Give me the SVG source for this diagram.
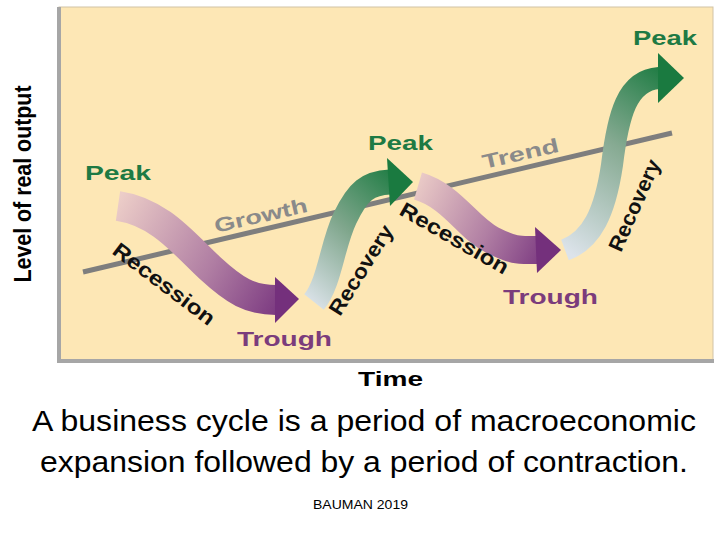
<svg xmlns="http://www.w3.org/2000/svg" width="720" height="540" viewBox="0 0 720 540">
  <style>
    .lbl { font-family: "Liberation Sans", Arial, sans-serif; font-weight: bold; }
    .peak { fill: #1E7A44; font-size: 21px; }
    .trough { fill: #7B3C7C; font-size: 21px; }
    .phase { fill: #111; font-size: 21px; }
    .trendtxt { fill: #8A8A8A; font-size: 20px; }
    .cap { font-family: "Liberation Sans", Arial, sans-serif; fill: #000; }
  </style>
  <defs>
    <linearGradient id="rec1" gradientUnits="userSpaceOnUse" x1="118" y1="200" x2="298" y2="300">
      <stop offset="0" stop-color="#ECCDC8"/>
      <stop offset="0.55" stop-color="#B07EA3"/>
      <stop offset="1" stop-color="#74307C"/>
    </linearGradient>
    <linearGradient id="rec2" gradientUnits="userSpaceOnUse" x1="415" y1="180" x2="560" y2="250">
      <stop offset="0" stop-color="#ECCDC8"/>
      <stop offset="0.55" stop-color="#B07EA3"/>
      <stop offset="1" stop-color="#74307C"/>
    </linearGradient>
    <linearGradient id="gro1" gradientUnits="userSpaceOnUse" x1="305" y1="300" x2="412" y2="180">
      <stop offset="0" stop-color="#DCE3EA"/>
      <stop offset="0.5" stop-color="#7FA68C"/>
      <stop offset="1" stop-color="#1A7A40"/>
    </linearGradient>
    <linearGradient id="gro2" gradientUnits="userSpaceOnUse" x1="565" y1="250" x2="684" y2="78">
      <stop offset="0" stop-color="#DCE3EA"/>
      <stop offset="0.55" stop-color="#86AA92"/>
      <stop offset="1" stop-color="#1A7A40"/>
    </linearGradient>
  </defs>

  <rect width="720" height="540" fill="#FFFFFF"/>

  <!-- panel -->
  <g id="panel">
    <rect x="59" y="7" width="654" height="354" fill="#FDE7B5" stroke="#D2C3A6" stroke-width="1"/>
    <line x1="59" y1="7" x2="59" y2="363" stroke="#A6A6A6" stroke-width="4"/>
    <line x1="57" y1="361" x2="714" y2="361" stroke="#A6A6A6" stroke-width="4"/>
  </g>

  <!-- axis labels -->
  <g id="axis-y">
    <text class="cap" font-weight="bold" font-size="24" text-anchor="middle" transform="translate(31,184) rotate(-90)" textLength="197" lengthAdjust="spacingAndGlyphs">Level of real output</text>
  </g>
  <g id="axis-x">
    <text class="cap" font-weight="bold" font-size="21" x="358" y="386" textLength="65" lengthAdjust="spacingAndGlyphs">Time</text>
  </g>

  <!-- trend line -->
  <g id="connectors">
    <line x1="83" y1="272" x2="672" y2="133" stroke="#7E7E7E" stroke-width="5"/>
  </g>
  <g id="trend-labels">
    <text class="lbl trendtxt" transform="translate(216,233) rotate(-13)" textLength="95" lengthAdjust="spacingAndGlyphs">Growth</text>
    <text class="lbl trendtxt" transform="translate(484,169) rotate(-13)" textLength="78" lengthAdjust="spacingAndGlyphs">Trend</text>
  </g>

  <!-- recession 1 -->
  <g id="recession1">
    <path d="M118,206 C 160,212 185,245 210,268 S 250,300 276,300" fill="none" stroke="url(#rec1)" stroke-width="30"/>
    <polygon points="275,277 299,299 275,323" fill="#74307C"/>
  </g>
  <!-- recovery 1 -->
  <g id="recovery1">
    <path d="M314,302 C 330,282 332,245 345,218 S 368,183 390,182" fill="none" stroke="url(#gro1)" stroke-width="25"/>
    <polygon points="387,158 413,182 390,206" fill="#1A7A40"/>
  </g>
  <!-- recession 2 -->
  <g id="recession2">
    <path d="M418,186 C 452,196 468,228 492,240 S 520,250 538,250" fill="none" stroke="url(#rec2)" stroke-width="28"/>
    <polygon points="535,227 561,250 537,273" fill="#74307C"/>
  </g>
  <!-- recovery 2 -->
  <g id="recovery2">
    <path d="M565,250 C 592,240 605,212 612,165 C 618,115 627,80 659,78" fill="none" stroke="url(#gro2)" stroke-width="22"/>
    <polygon points="658,53 684,78 658,103" fill="#1A7A40"/>
  </g>

  <!-- phase labels -->
  <g id="peak-labels">
    <text class="lbl peak" x="85" y="180" textLength="66" lengthAdjust="spacingAndGlyphs">Peak</text>
    <text class="lbl peak" x="368" y="150" textLength="65" lengthAdjust="spacingAndGlyphs">Peak</text>
    <text class="lbl peak" x="633" y="45" textLength="64" lengthAdjust="spacingAndGlyphs">Peak</text>
  </g>
  <g id="trough-labels">
    <text class="lbl trough" x="237" y="346" textLength="95" lengthAdjust="spacingAndGlyphs">Trough</text>
    <text class="lbl trough" x="503" y="304" textLength="95" lengthAdjust="spacingAndGlyphs">Trough</text>
  </g>
  <g id="phase-labels">
    <text class="lbl phase" transform="translate(111,253) rotate(37)" textLength="122" lengthAdjust="spacingAndGlyphs">Recession</text>
    <text class="lbl phase" transform="translate(398,214) rotate(30)" textLength="122" lengthAdjust="spacingAndGlyphs">Recession</text>
    <text class="lbl phase" transform="translate(340,317) rotate(-58)" textLength="102" lengthAdjust="spacingAndGlyphs">Recovery</text>
    <text class="lbl phase" transform="translate(621,253) rotate(-66)" textLength="98" lengthAdjust="spacingAndGlyphs">Recovery</text>
  </g>

  <!-- caption -->
  <g id="caption">
    <text class="cap" font-size="30" x="32" y="431" textLength="664" lengthAdjust="spacingAndGlyphs">A business cycle is a period of macroeconomic</text>
    <text class="cap" font-size="30" x="40" y="472" textLength="648" lengthAdjust="spacingAndGlyphs">expansion followed by a period of contraction.</text>
    <text class="cap" font-size="13" x="313" y="509" textLength="95" lengthAdjust="spacingAndGlyphs">BAUMAN 2019</text>
  </g>
</svg>
